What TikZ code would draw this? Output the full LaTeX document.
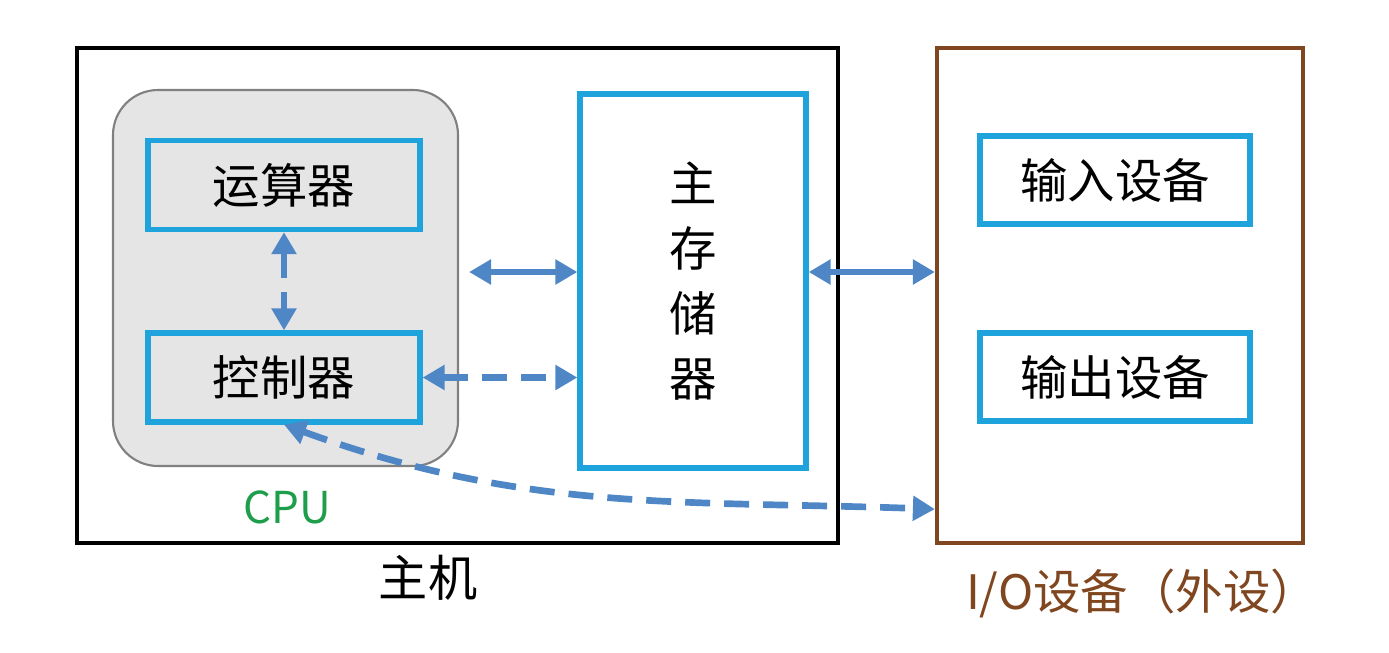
\documentclass[tikz,border=0pt]{standalone}
\usepackage{fontspec}
\setmainfont{Noto Sans CJK SC}
\usetikzlibrary{arrows.meta, positioning, calc}
\definecolor{boxblue}{HTML}{1FA3DD}
\definecolor{arrowblue}{HTML}{4F87C6}
\definecolor{iobrown}{HTML}{80461F}
\definecolor{cpugreen}{HTML}{1E9E4A}

\begin{document}
\begin{tikzpicture}[
    frame/.style={rectangle, draw=black, line width=1.2pt},
    unit/.style={rectangle, draw=boxblue, line width=1.5pt, minimum width=2.72cm, minimum height=0.89cm, font=\fontsize{13.5}{15}\selectfont},
    core/.style={rectangle, rounded corners=0.45cm, draw=gray, fill=gray!20, line width=0.6pt},
    link/.style={{Triangle[length=0.22cm,width=0.24cm]}-{Triangle[length=0.22cm,width=0.24cm]}, draw=arrowblue, line width=1.9pt},
    dlink/.style={link, dash pattern=on 0.25cm off 0.14cm},
    caption/.style={font=\fontsize{14}{16}\selectfont}
]
\useasboundingbox (0,0) rectangle (13.89,-6.52);

% Host and I/O frames
\node[frame, minimum width=7.61cm, minimum height=4.95cm] (host) at (4.575,-2.955) {};
\node[frame, draw=iobrown, minimum width=3.66cm, minimum height=4.95cm] (io) at (11.2,-2.955) {};

% CPU
\node[core, minimum width=3.45cm, minimum height=3.76cm] (cpu) at (2.855,-2.78) {};
\node[unit] (alu) at (2.84,-1.85) {运算器};
\node[unit] (ctrl) at (2.84,-3.775) {控制器};

% Memory
\node[unit, minimum width=2.26cm, minimum height=3.74cm, align=center, font=\fontsize{13.5}{18.5}\selectfont] (mem) at (6.93,-2.81) {主\\存\\储\\器};

% I/O devices
\node[unit, minimum width=2.7cm, minimum height=0.88cm] (indev) at (11.15,-1.8) {输入设备};
\node[unit, minimum width=2.7cm, minimum height=0.88cm] (outdev) at (11.15,-3.77) {输出设备};

% Labels
\node[caption, font=\fontsize{12.5}{15}\selectfont, text=cpugreen] (cpulabel) at (2.87,-5.07) {CPU};
\node[caption] (hostlabel) at (4.28,-5.78) {主机};
\node[caption, font=\fontsize{13.5}{16}\selectfont, text=iobrown] (iolabel) at (11.42,-5.93) {I/O设备（外设）};

% Connections
\draw[link] ([shift={(0.1,0.06)}]cpu.east) -- ([yshift=0.09cm]mem.west);
\draw[dlink] (alu.south) -- (ctrl.north);
\draw[dlink] (ctrl.east) -- (ctrl.east -| mem.west);
\draw[link] ([yshift=0.09cm]mem.east) -- ([yshift=0.09cm]mem.east -| io.west);
\coordinate (ioin) at ($(io.south west)+(0,0.36)$);
\draw[dlink] (ctrl.south) to[out=-20, in=178] (ioin);

\end{tikzpicture}
\end{document}
